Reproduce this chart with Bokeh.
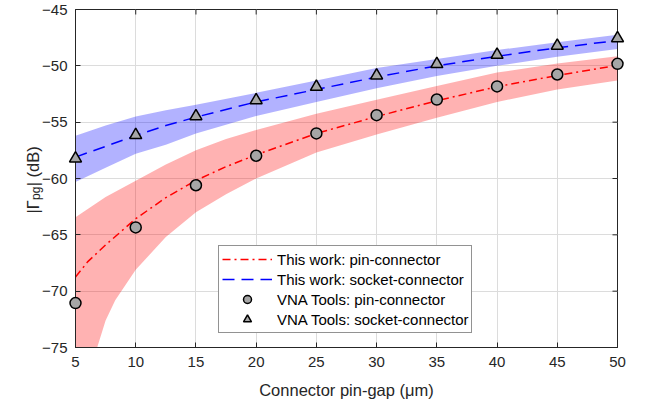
import numpy as np
from bokeh.plotting import figure
from bokeh.models import Range1d, LinearAxis, Label, Legend, LegendItem, FixedTicker
from bokeh.embed import file_html
from bokeh.resources import INLINE

# ---------------- data ----------------
gap_um = [5, 10, 15, 20, 25, 30, 35, 40, 45, 50]
vna_pin = [-71.06, -64.34, -60.6, -57.98, -56.0, -54.38, -52.99, -51.83, -50.77, -49.82]
vna_socket = [-58.22, -56.15, -54.47, -53.05, -51.86, -50.86, -49.85, -49.02, -48.22, -47.55]

model_pin_x = [5, 6, 7.5, 10, 12.5, 15, 17.5, 20, 25, 30, 35, 40, 45, 50]
model_pin_y = [-68.75, -67.4, -65.9, -63.57, -61.7, -60.17, -58.95, -57.9, -56.0, -54.5, -53.1, -51.85, -50.85, -49.95]

model_socket_x = [5, 7.5, 10, 12.5, 15, 20, 25, 30, 35, 40, 45, 50]
model_socket_y = [-58.1, -57.15, -56.18, -55.3, -54.55, -53.2, -52.1, -51.0, -50.0, -49.15, -48.4, -47.75]

# uncertainty bands
pin_upper_x = [5, 7.5, 10, 12.5, 15, 17.5, 20, 25, 30, 35, 40, 45, 50]
pin_upper_y = [-63.45, -61.65, -60.2, -58.75, -57.5, -56.5, -55.7, -54.25, -53.0, -51.8, -50.6, -49.8, -49.15]
pin_lower_x = [5, 6.8, 7.5, 8.3, 10, 12.5, 15, 17.5, 20, 25, 30, 35, 40, 45, 50]
pin_lower_y = [-75, -75, -72.6, -70.8, -68.1, -65.2, -63.0, -61.4, -60.0, -57.7, -56.1, -54.6, -53.2, -52.1, -51.3]

socket_band_x = [5, 7.5, 10, 12.5, 15, 20, 25, 30, 35, 40, 45, 50]
socket_upper_y = [-56.2, -55.3, -54.5, -53.95, -53.45, -52.4, -51.3, -50.2, -49.4, -48.6, -47.9, -47.25]
socket_lower_y = [-60.3, -59.05, -57.8, -57.0, -56.0, -54.45, -53.2, -52.0, -50.9, -50.0, -49.2, -48.5]

x_ticks = [5, 10, 15, 20, 25, 30, 35, 40, 45, 50]
y_ticks = [-75, -70, -65, -60, -55, -50, -45]
x_lim = (5, 50)
y_lim = (-75, -45)

labels = ["This work: pin-connector", "This work: socket-connector",
          "VNA Tools: pin-connector", "VNA Tools: socket-connector"]
x_title = "Connector pin-gap (μm)"
y_title_main = "|Γ\u00a0\u00a0\u00a0| (dB)"
y_title_sub = "pg"

# ---------------- figure ----------------
FONT = "Liberation Sans"
TXT = "#262626"

p = figure(width=648, height=405, output_backend="svg", toolbar_location=None,
           x_range=Range1d(*x_lim), y_range=Range1d(*y_lim),
           min_border_left=75, min_border_right=31, min_border_top=9, min_border_bottom=58,
           x_axis_location=None, y_axis_location=None)
p.background_fill_color = "white"
p.border_fill_color = "white"
p.outline_line_color = TXT
p.outline_line_width = 1
p.outline_line_alpha = 1

# bands
p.patch(pin_upper_x + pin_lower_x[::-1], pin_upper_y + pin_lower_y[::-1],
        fill_color="#ff0000", fill_alpha=0.3, line_color=None)
p.varea(x=socket_band_x, y1=socket_lower_y, y2=socket_upper_y,
        fill_color="#0000ff", fill_alpha=0.3)

# axes (bottom / left, ticks pointing inward)
bottom = LinearAxis(ticker=FixedTicker(ticks=x_ticks), axis_label=x_title)
left = LinearAxis(ticker=FixedTicker(ticks=y_ticks))
for ax in (bottom, left):
    ax.axis_line_color = TXT
    ax.axis_line_width = 1
    ax.major_tick_line_color = TXT
    ax.major_tick_in = 5
    ax.major_tick_out = 0
    ax.minor_tick_line_color = None
    ax.major_label_text_font = FONT
    ax.major_label_text_font_size = "15px"
    ax.major_label_text_color = TXT
bottom.major_label_standoff = 9
left.major_label_standoff = 8
bottom.axis_label_text_font = FONT
bottom.axis_label_text_font_size = "16.5px"
bottom.axis_label_text_font_style = "normal"
bottom.axis_label_text_color = TXT
bottom.axis_label_standoff = 11
p.add_layout(bottom, "below")
p.add_layout(left, "left")

# inward ticks on top and right edges (half of each dash is clipped by the frame)
p.scatter(x=x_ticks, y=[y_lim[1]] * len(x_ticks), marker="dash", angle=np.pi / 2,
          size=10, line_color=TXT, line_width=1)
p.scatter(x=[x_lim[1]] * len(y_ticks), y=y_ticks, marker="dash",
          size=10, line_color=TXT, line_width=1)

p.xgrid.ticker = FixedTicker(ticks=x_ticks)
p.ygrid.ticker = FixedTicker(ticks=y_ticks)
for g in (p.xgrid, p.ygrid):
    g.grid_line_color = "#dcdcdc"
    g.grid_line_width = 1

# model curves
r_pin = p.line(model_pin_x, model_pin_y, line_color="#ff0000", line_width=1.5, line_dash="8 4 2 4")
r_sock = p.line(model_socket_x, model_socket_y, line_color="#0000ff", line_width=1.5, line_dash="12 7")

# VNA Tools points (overlay level so edge markers are not cut by the frame)
r_vpin = p.scatter(gap_um, vna_pin, marker="circle", size=11, fill_color="#a6a6a6",
                   line_color="black", line_width=1.5, level="overlay")
r_vsock = p.scatter(gap_um, vna_socket, marker="triangle", size=12, fill_color="#a6a6a6",
                    line_color="black", line_width=1.5, level="overlay")

legend = Legend(items=[LegendItem(label=labels[0], renderers=[r_pin]),
                       LegendItem(label=labels[1], renderers=[r_sock]),
                       LegendItem(label=labels[2], renderers=[r_vpin]),
                       LegendItem(label=labels[3], renderers=[r_vsock])],
                location=(143, 14), orientation="vertical")
legend.label_text_font = FONT
legend.label_text_font_size = "15px"
legend.label_text_color = "black"
legend.border_line_color = TXT
legend.border_line_width = 1
legend.background_fill_color = "white"
legend.background_fill_alpha = 1
legend.padding = 3
legend.spacing = 0
legend.margin = 0
legend.glyph_width = 50
legend.glyph_height = 20
legend.label_height = 20
legend.label_standoff = 5
p.add_layout(legend, "center")

# y-axis label |Γ_pg| (dB): main text plus subscript, rotated, left of the frame
ylab_main = Label(x=1.43, y=-63.1, text=y_title_main,
                  angle=np.pi / 2, text_font=FONT, text_font_size="16.5px",
                  text_color=TXT, text_align="left", text_baseline="alphabetic")
ylab_sub = Label(x=1.76, y=-61.9, text=y_title_sub,
                 angle=np.pi / 2, text_font=FONT, text_font_size="12px",
                 text_color=TXT, text_align="left", text_baseline="alphabetic")
p.add_layout(ylab_main, "left")
p.add_layout(ylab_sub, "left")

open("out.html", "w").write(file_html(p, INLINE))
